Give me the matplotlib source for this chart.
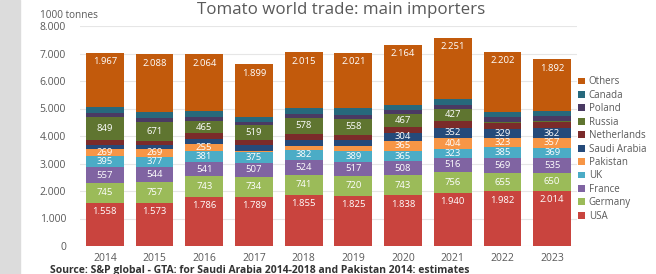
import numpy as np
import matplotlib.pyplot as plt
from matplotlib.patches import Rectangle

plt.rcParams['font.family'] = ['Open Sans', 'DejaVu Sans']

# Tomato imports, 1000 tonnes
years = ['2014', '2015', '2016', '2017', '2018', '2019', '2020', '2021', '2022', '2023']
usa = [1558, 1573, 1786, 1789, 1855, 1825, 1838, 1940, 1982, 2014]
germany = [745, 757, 743, 734, 741, 720, 743, 756, 655, 650]
france = [557, 544, 541, 507, 524, 517, 508, 516, 569, 535]
uk = [395, 377, 381, 375, 382, 389, 365, 323, 385, 369]
pakistan = [269, 269, 255, 50, 130, 190, 365, 404, 323, 357]
saudi = [160, 150, 180, 210, 220, 200, 304, 352, 329, 362]
netherlands = [170, 160, 206, 200, 230, 210, 210, 270, 240, 230]
russia = [849, 671, 465, 519, 578, 558, 467, 427, 40, 30]
poland = [130, 150, 120, 120, 150, 160, 145, 150, 170, 170]
canada = [230, 234, 230, 200, 220, 240, 200, 190, 175, 180]
others = [1967, 2088, 2064, 1899, 2015, 2021, 2164, 2251, 2202, 1892]

# which years carry a value label
show_pakistan = [1, 1, 1, 0, 0, 0, 1, 1, 1, 1]
show_saudi = [0, 0, 0, 0, 0, 0, 1, 1, 1, 1]
show_russia = [1, 1, 1, 1, 1, 1, 1, 1, 0, 0]

series = [
    ('USA', usa, '#c9443e', [1] * 10, 'end'),
    ('Germany', germany, '#9bbb59', [1] * 10, 'center'),
    ('France', france, '#8064a2', [1] * 10, 'center'),
    ('UK', uk, '#4bacc6', [1] * 10, 'center'),
    ('Pakistan', pakistan, '#f79646', show_pakistan, 'center'),
    ('Saudi Arabia', saudi, '#254a7a', show_saudi, 'center'),
    ('Netherlands', netherlands, '#7b2b2a', [0] * 10, 'center'),
    ('Russia', russia, '#5f7530', show_russia, 'center'),
    ('Poland', poland, '#4a3a63', [0] * 10, 'center'),
    ('Canada', canada, '#27697c', [0] * 10, 'center'),
    ('Others', others, '#c25a0c', [1] * 10, 'end'),
]

fig = plt.figure(figsize=(6.56, 2.74), dpi=100)
fig.add_artist(Rectangle((0, 0), 20 / 656, 1, transform=fig.transFigure,
                         color='#dcdcdc', zorder=0))
ax = fig.add_axes([80 / 656, 28 / 274, 497 / 656, 220 / 274])

x = np.arange(len(years))
bottom = np.zeros(len(years))
handles = []
for name, vals, col, show, pos in series:
    vals = np.array(vals, dtype=float)
    b = ax.bar(x, vals, 0.76, bottom=bottom, color=col, label=name, zorder=3)
    handles.append(b)
    for i in range(len(years)):
        if not show[i]:
            continue
        txt = f'{int(vals[i]):,}'.replace(',', '.')
        if pos == 'end':
            y = bottom[i] + vals[i] - 320
        else:
            y = bottom[i] + vals[i] / 2
        ax.text(x[i], y, txt, ha='center', va='center', fontsize=6.8,
                color='white', zorder=4)
    bottom += vals

ax.set_xlim(-0.5, 9.5)
ax.set_ylim(0, 8000)
ax.set_yticks(np.arange(0, 8001, 1000))
ax.set_yticklabels([f'{v:,}'.replace(',', '.') for v in range(0, 8001, 1000)])
ax.set_xticks(x)
ax.set_xticklabels(years)
ax.tick_params(length=0, labelsize=7.5, colors='#595959')
ax.tick_params(axis='x', pad=5)
ax.tick_params(axis='y', pad=10)
ax.grid(axis='y', color='#e6e6e6', linewidth=0.8, zorder=0)
for s in ax.spines.values():
    s.set_visible(False)

fig.text(341 / 656, 1 - 10 / 274, 'Tomato world trade: main importers',
         ha='center', va='center', fontsize=12.2, color='#595959')
fig.text(40 / 656, 1 - 16 / 274, '1000 tonnes', ha='left', va='center',
         fontsize=7.2, color='#595959')
fig.text(50 / 656, 1 - 270 / 274,
         'Source: S&P global - GTA: for Saudi Arabia 2014-2018 and Pakistan 2014: estimates',
         ha='left', va='center', fontsize=7.5, color='#333333', fontweight='bold')

fig.legend(handles[::-1], [s[0] for s in series][::-1], loc='center left',
           bbox_to_anchor=(578 / 656, 1 - 149 / 274), frameon=False,
           fontsize=7, labelcolor='#595959', handlelength=0.7, handleheight=0.7,
           handletextpad=0.4, labelspacing=0.25, borderaxespad=0, borderpad=0)

fig.savefig('out.png', dpi=100)
